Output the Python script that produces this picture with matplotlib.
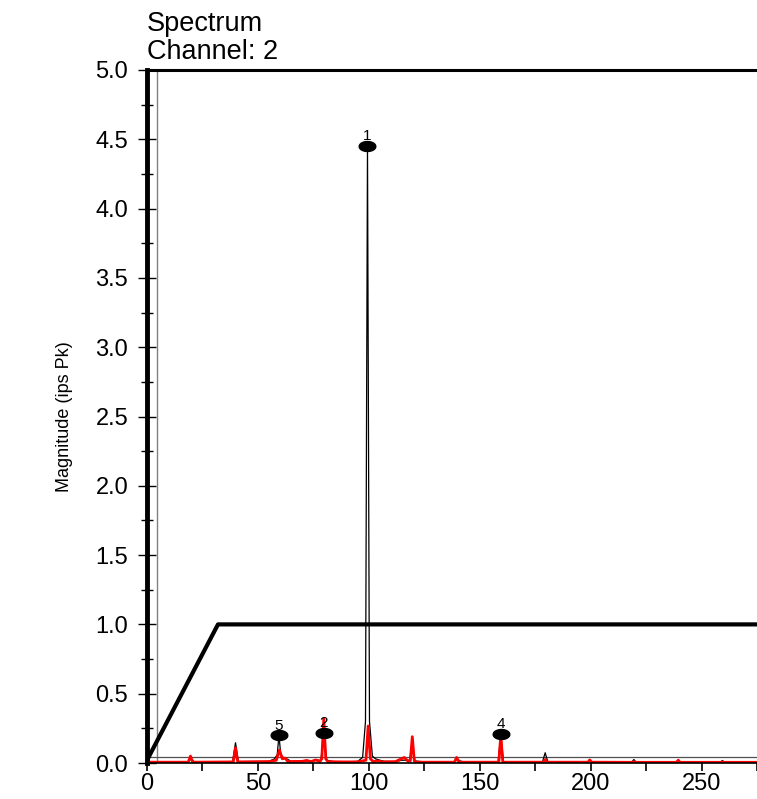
import matplotlib
matplotlib.use("Agg")
import matplotlib.pyplot as plt
from matplotlib.ticker import MultipleLocator
import numpy as np

plt.rcParams['font.family'] = ['Liberation Sans', 'DejaVu Sans']

# spectrum traces (frequency, magnitude ips Pk)
black_f = [0, 2, 18.5, 19.9, 21.3, 38.6, 39.9, 41.2, 55, 57.5, 58.7, 59.5, 60.3, 61.5, 63, 65,
           70, 72, 74, 76, 78.4, 79.7, 81, 84, 90, 95, 97.2, 98.5, 99.4, 100.3, 101.6, 103, 105,
           107, 112, 115, 118.4, 119.6, 120.8, 125, 138.4, 139.6, 141, 143, 158.3, 159.5, 160.7,
           178.3, 179.5, 180.7, 198.5, 199.6, 200.7, 218.5, 219.5, 220.5, 238.5, 239.5, 240.5,
           258.5, 259.4, 260.4, 275]
black_mag = [0.005, 0.005, 0.008, 0.03, 0.008, 0.01, 0.146, 0.01, 0.012, 0.03, 0.06, 0.2, 0.06,
             0.04, 0.03, 0.012, 0.015, 0.02, 0.012, 0.02, 0.02, 0.215, 0.02, 0.01, 0.008, 0.012,
             0.04, 0.3, 4.45, 0.3, 0.05, 0.03, 0.02, 0.012, 0.01, 0.02, 0.02, 0.15, 0.015, 0.008,
             0.008, 0.035, 0.015, 0.008, 0.01, 0.21, 0.01, 0.008, 0.074, 0.008, 0.006, 0.02, 0.006,
             0.006, 0.025, 0.006, 0.006, 0.018, 0.006, 0.005, 0.018, 0.005, 0.004]

red_f = [0, 18.6, 19.6, 20.6, 38.9, 39.9, 40.9, 55, 58.3, 59.7, 61, 62.3, 63.5, 70, 72, 74, 76,
         78, 78.8, 79.7, 80.6, 81.5, 88, 95, 98.7, 99.7, 100.7, 102, 104, 106, 112, 116, 117.5,
         118.7, 119.6, 120.5, 121.5, 138.6, 139.6, 140.6, 158.6, 159.5, 160.4, 178.7, 179.5,
         180.3, 198.8, 199.6, 200.4, 219, 219.5, 220, 238.7, 239.5, 240.3, 258.9, 259.4, 259.9, 275]
red_mag = [0.006, 0.006, 0.05, 0.006, 0.008, 0.11, 0.008, 0.01, 0.02, 0.094, 0.03, 0.035, 0.01,
           0.012, 0.018, 0.01, 0.022, 0.012, 0.03, 0.32, 0.03, 0.01, 0.008, 0.008, 0.02, 0.267,
           0.03, 0.01, 0.015, 0.008, 0.01, 0.04, 0.015, 0.015, 0.19, 0.015, 0.006, 0.006, 0.04,
           0.006, 0.006, 0.2, 0.006, 0.006, 0.025, 0.006, 0.006, 0.022, 0.006, 0.005, 0.01, 0.005,
           0.005, 0.02, 0.005, 0.005, 0.008, 0.005, 0.005]

# alarm envelope
alarm_f = [0, 32, 275]
alarm_mag = [0.02, 1.0, 1.0]

# peak markers
peak_f = [99.4, 79.7, 159.5, 59.5]
peak_mag = [4.45, 0.215, 0.21, 0.2]
peak_labels = ['1', '2', '4', '5']

cursor_f = 4.5
floor_mag = 0.045

fig = plt.figure(figsize=(7.57, 7.99), dpi=100)
ax = fig.add_axes([147 / 757, 36 / 799, 1 - 147 / 757, 693 / 799])

ax.axvline(cursor_f, color='#808080', lw=1)
ax.axhline(floor_mag, color='#505050', lw=0.9)
ax.plot(alarm_f, alarm_mag, color='black', lw=3, solid_capstyle='butt')
ax.plot(black_f, black_mag, color='black', lw=0.9)
ax.plot(red_f, red_mag, color='red', lw=2)

t = np.linspace(0, 2 * np.pi, 40)
ellipse = np.column_stack([np.cos(t), 0.6 * np.sin(t)])
ax.plot(peak_f, peak_mag, linestyle='none', marker=ellipse, markersize=12, color='black')
for f, m, lab in zip(peak_f, peak_mag, peak_labels):
    ax.annotate(lab, (f, m), xytext=(0, 2), textcoords='offset points',
                ha='center', va='bottom', fontsize=11)

ax.set_xlim(0, 275)
ax.set_ylim(0, 5.0)
ax.xaxis.set_major_locator(MultipleLocator(50))
ax.xaxis.set_minor_locator(MultipleLocator(25))
ax.yaxis.set_major_locator(MultipleLocator(0.5))
ax.yaxis.set_minor_locator(MultipleLocator(0.25))
ax.yaxis.set_major_formatter(plt.FormatStrFormatter('%.1f'))

ax.tick_params(axis='x', which='both', direction='out', length=6, width=1.2, labelsize=17, pad=1)
ax.tick_params(axis='y', which='major', direction='inout', length=13, width=1, labelsize=17, pad=7)
ax.tick_params(axis='y', which='minor', direction='inout', length=8, width=1)

ax.spines['right'].set_visible(False)
ax.spines['left'].set_linewidth(3.5)
ax.spines['top'].set_linewidth(2.2)
ax.spines['bottom'].set_linewidth(1.2)

ax.set_ylabel('Magnitude (ips Pk)', fontsize=13, labelpad=16,
              family=['Liberation Sans Narrow', 'Liberation Sans'])

fig.text(147 / 757, 1 - 11 / 799, 'Spectrum\nChannel: 2', ha='left', va='top', fontsize=19.5,
         linespacing=1.12)

fig.savefig('out.png', dpi=100)
